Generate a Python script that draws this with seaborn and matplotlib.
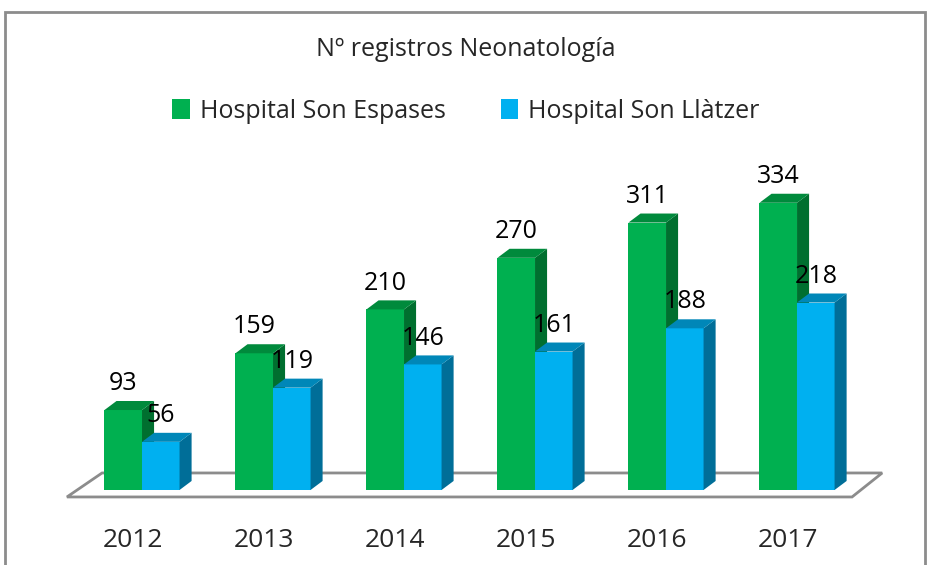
import seaborn as sns
import pandas as pd
import matplotlib.pyplot as plt
from matplotlib.patches import Polygon, Rectangle
from matplotlib.transforms import ScaledTranslation

# ---------------- data ----------------
years = ['2012', '2013', '2014', '2015', '2016', '2017']
son_espases = [93, 159, 210, 270, 311, 334]
son_llatzer = [56, 119, 146, 161, 188, 218]
hospitals = ['Hospital Son Espases', 'Hospital Son Llàtzer']
title = 'Nº registros Neonatología'

front_colors = ['#00b050', '#00b0f0']
side_colors = ['#006f2f', '#006e98']
top_colors = ['#008a3c', '#0087b8']

df = pd.DataFrame({
    'year': years * 2,
    'value': son_espases + son_llatzer,
    'hospital': [hospitals[0]] * len(years) + [hospitals[1]] * len(years),
})

sns.set_style('white')
plt.rcParams['font.family'] = ['Open Sans', 'DejaVu Sans']

fig = plt.figure(figsize=(9.32, 5.65), dpi=100)
ax = fig.add_axes([60 / 932, 65 / 565, 840 / 932, 360 / 565])

sns.barplot(data=df, x='year', y='value', hue='hospital', palette=front_colors,
            width=0.573, gap=0, saturation=1, linewidth=0, ax=ax)

ax.set_xlim(-0.626, 5.786)
ax.set_ylim(-11.63, 407)

# fake 3d: side and top faces taken from the bars seaborn drew
dx, dy = 0.092, 10.5
for i, cont in enumerate(ax.containers):
    for bar in cont:
        bar.set_zorder(2 + i)
        x0, w, h = bar.get_x(), bar.get_width(), bar.get_height()
        side = Polygon([(x0 + w, 0), (x0 + w + dx, dy), (x0 + w + dx, h + dy), (x0 + w, h)],
                       closed=True, facecolor=side_colors[i], lw=0, zorder=2.5 + i, clip_on=False)
        top = Polygon([(x0, h), (x0 + dx, h + dy), (x0 + w + dx, h + dy), (x0 + w, h)],
                      closed=True, facecolor=top_colors[i], lw=0, zorder=2.5 + i, clip_on=False)
        ax.add_patch(side)
        ax.add_patch(top)
    ax.bar_label(cont, padding=10, fontsize=18, color='black', zorder=5)

# floor
floor = Polygon([(-0.573, -8.1), (-0.305, 19.8), (5.65, 19.8), (5.42, -8.1)], closed=True,
                facecolor='white', edgecolor='#8c8c8c', lw=2, zorder=1, clip_on=False)
ax.add_patch(floor)

sns.despine(ax=ax, left=True, bottom=True)
ax.set_yticks([])
ax.set_xlabel('')
ax.set_ylabel('')
ax.tick_params(axis='x', length=0, pad=20, labelsize=19)
shift = ScaledTranslation(-9 / 100, 0, fig.dpi_scale_trans)
for lbl in ax.get_xticklabels():
    lbl.set_transform(lbl.get_transform() + shift)

handles, labels = ax.get_legend_handles_labels()
ax.get_legend().remove()
fig.legend(handles, labels, loc='center', bbox_to_anchor=(0.5, 1 - 111 / 565), ncol=2,
           frameon=False, fontsize=18, handlelength=0.7, handleheight=0.9,
           handletextpad=0.4, columnspacing=2.2)

fig.text(0.5, 1 - 50 / 565, title, ha='center', va='center', fontsize=18)

fig.add_artist(Rectangle((5 / 932, -0.1), 920 / 932, 1.1 - 12 / 565, transform=fig.transFigure,
                         fill=False, edgecolor='#8c8c8c', lw=2))

plt.savefig('out.png', dpi=100)
